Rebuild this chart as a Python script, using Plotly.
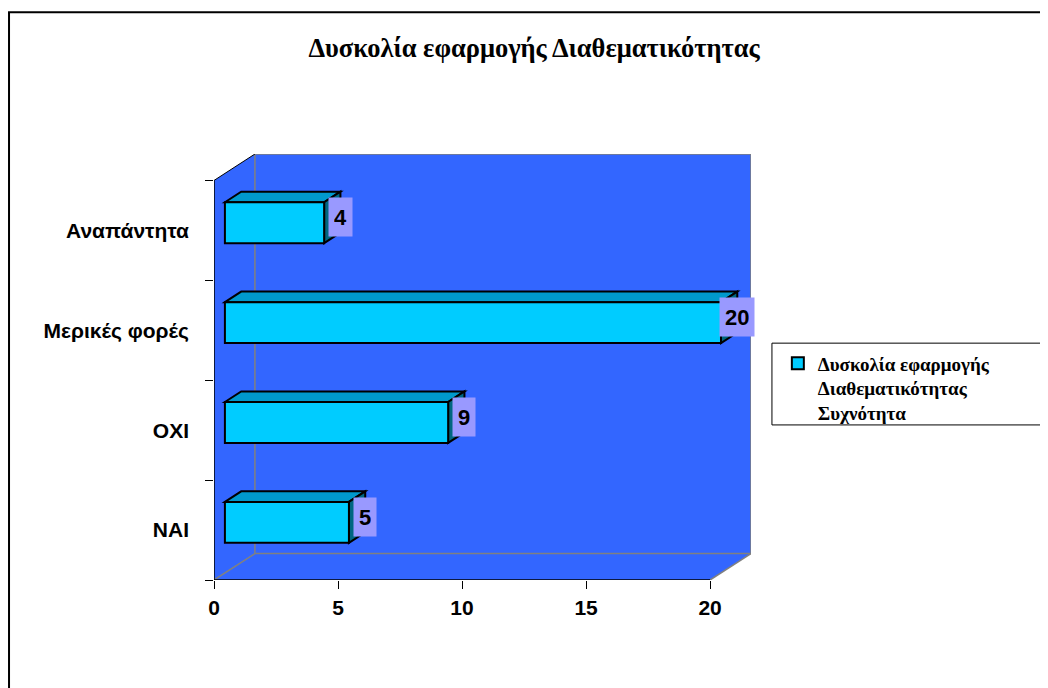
import plotly.graph_objects as go

# data
categories = ["ΝΑΙ", "ΟΧΙ", "Μερικές φορές", "Αναπάντητα"]
frequency = [5, 9, 20, 4]
x_ticks = [0, 5, 10, 15, 20]
series_name = "Δυσκολία εφαρμογής<br>Διαθεματικότητας<br>Συχνότητα"
title_text = "Δυσκολία εφαρμογής Διαθεματικότητας"

# 3d frame geometry (axis units)
X_MAX = 20
DX, DY = 1.65, 0.265          # depth of the walls
B0 = 0.44                     # bar front face starts here
FC, BH = 0.077, 0.41          # bar centre shift / bar height
BDX, BDY = 0.657, 0.106       # bar depth

WALL = "#3366FF"
GREY = "#808080"
SANS = "Liberation Sans, Arial, sans-serif"
SERIF = "Liberation Serif, Times New Roman, serif"

pos = list(range(len(categories)))
y_lo, y_hi = -0.5, len(categories) - 0.5

fig = go.Figure()

fig.add_trace(go.Bar(
    y=pos, x=frequency, base=B0, orientation="h",
    width=BH, offset=FC - BH / 2,
    marker=dict(color="#00CCFF", line=dict(color="black", width=2)),
    name=series_name, hoverinfo="skip", showlegend=True,
))

shapes = []
# walls
shapes.append(dict(type="path", layer="below", line=dict(width=0), fillcolor=WALL,
                   path=f"M0,{y_lo} L{DX},{y_lo + DY} L{DX},{y_hi + DY} L0,{y_hi} Z"))
shapes.append(dict(type="path", layer="below", line=dict(width=0), fillcolor=WALL,
                   path=f"M0,{y_lo} L{X_MAX},{y_lo} L{X_MAX + DX},{y_lo + DY} L{DX},{y_lo + DY} Z"))
shapes.append(dict(type="rect", layer="below", line=dict(color=GREY, width=1.5), fillcolor=WALL,
                   x0=DX, x1=X_MAX + DX, y0=y_lo + DY, y1=y_hi + DY))
shapes.append(dict(type="line", layer="below", line=dict(color=GREY, width=1.5),
                   x0=0, y0=y_lo, x1=DX, y1=y_lo + DY))
shapes.append(dict(type="line", layer="below", line=dict(color=GREY, width=1.5),
                   x0=X_MAX, y0=y_lo, x1=X_MAX + DX, y1=y_lo + DY))
shapes.append(dict(type="line", layer="below", line=dict(color="black", width=1),
                   x0=0, y0=y_hi, x1=DX, y1=y_hi + DY))
shapes.append(dict(type="line", layer="below", line=dict(color="black", width=1.5),
                   x0=0, y0=y_lo, x1=0, y1=y_hi))
shapes.append(dict(type="line", layer="below", line=dict(color="black", width=1.5),
                   x0=0, y0=y_lo, x1=X_MAX, y1=y_lo))

# bar top and side faces
annotations = []
for p, v in zip(pos, frequency):
    x0, x1 = B0, B0 + v
    yb, yt = p + FC - BH / 2, p + FC + BH / 2
    shapes.append(dict(type="path", layer="below", fillcolor="#0099CC",
                       line=dict(color="black", width=2),
                       path=f"M{x0},{yt} L{x0 + BDX},{yt + BDY} L{x1 + BDX},{yt + BDY} L{x1},{yt} Z"))
    shapes.append(dict(type="path", layer="below", fillcolor="#006680",
                       line=dict(color="black", width=2),
                       path=f"M{x1},{yb} L{x1},{yt} L{x1 + BDX},{yt + BDY} L{x1 + BDX},{yb + BDY} Z"))
    annotations.append(dict(
        x=x1 + BDX, y=p + FC + BDY / 2, xref="x", yref="y", text=str(v),
        showarrow=False, bgcolor="#9999FF", borderpad=5, height=28,
        font=dict(family=SANS, size=22, color="black", weight="bold"),
    ))

# legend box and outer border
shapes.append(dict(type="rect", xref="paper", yref="paper", layer="above",
                   x0=1.039, x1=1.6, y0=0.364, y1=0.556,
                   line=dict(color="black", width=1), fillcolor="rgba(0,0,0,0)"))
shapes.append(dict(type="rect", xref="paper", yref="paper", layer="above",
                   x0=-0.3817, x1=2.0, y0=-1.0, y1=1.333,
                   line=dict(color="black", width=2), fillcolor="rgba(0,0,0,0)"))

# page body adds 8px around the figure, so the canvas is 8px smaller
fig.update_layout(
    width=1040, height=680,
    margin=dict(l=206, r=297, t=146, b=108),
    paper_bgcolor="white", plot_bgcolor="white",
    title=dict(text=title_text, x=0.5058, xref="container", xanchor="center",
               y=0.941, yref="container", yanchor="middle",
               font=dict(family=SERIF, size=26.5, color="black", weight="bold")),
    shapes=shapes, annotations=annotations,
    showlegend=True,
    legend=dict(x=1.05, y=0.553, xanchor="left", yanchor="top", valign="top",
                bgcolor="rgba(0,0,0,0)", borderwidth=0,
                font=dict(family=SERIF, size=19, color="black", weight="bold")),
    dragmode=False,
)
fig.update_xaxes(
    range=[0, X_MAX + DX], tickvals=x_ticks, showgrid=False, zeroline=False,
    showline=False, ticks="outside", ticklen=8, tickcolor="black",
    ticklabelstandoff=1,
    tickfont=dict(family=SANS, size=21, color="black", weight="bold"),
)
fig.update_yaxes(
    range=[y_lo, y_hi + DY], tickvals=pos, ticktext=categories,
    showgrid=False, zeroline=False, showline=False, ticks="",
    ticklabelstandoff=24,
    minor=dict(tickvals=[p - 0.5 for p in pos] + [y_hi], ticks="outside",
               ticklen=8, tickcolor="black", showgrid=False),
    tickfont=dict(family=SANS, size=21, color="black", weight="bold"),
)

fig.write_html("out.html")
